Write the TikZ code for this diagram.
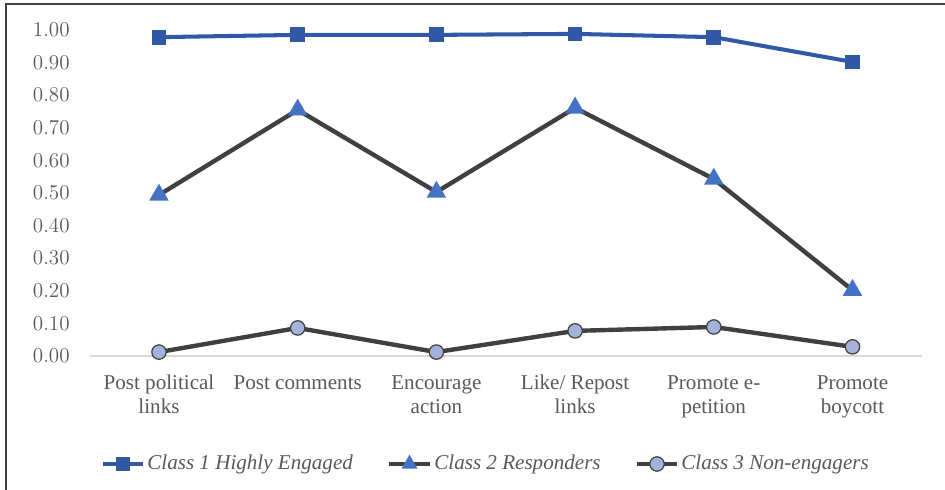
\documentclass[tikz,border=0pt]{standalone}
\usepackage{fontspec}
\setmainfont{Liberation Serif}
\usetikzlibrary{shapes.geometric}
\definecolor{lineblue}{HTML}{3058A6}
\definecolor{triblue}{HTML}{4472C4}
\definecolor{dotblue}{HTML}{A3B3DC}
\definecolor{darkline}{HTML}{404040}
\definecolor{ticktext}{HTML}{595959}
\tikzset{
	chartfont/.style={font=\fontsize{12}{13.6}\selectfont, text=ticktext},
	sqmark/.style={rectangle, fill=lineblue, minimum size=8.4pt, inner sep=0pt},
	trimark/.style={regular polygon, regular polygon sides=3, fill=triblue, minimum size=12.8pt, inner sep=0pt},
	dotmark/.style={circle, draw=darkline, line width=0.7pt, fill=dotblue, minimum size=8.2pt, inner sep=0pt},
	blueline/.style={draw=lineblue, line width=2.3pt, line join=round},
	darkseries/.style={draw=darkline, line width=2.5pt, line join=round}
}

\begin{document}
\begin{tikzpicture}[x=2.774cm, y=6.52cm]
		%%%%% FRAME %%%%%
		\useasboundingbox (-3.18cm,-2.68cm) rectangle (15.72cm,7.12cm);
		\draw[darkline, line width=1.2pt] (-3.06cm,-2.68cm) -- (-3.06cm,7.04cm) -- (15.72cm,7.04cm);
		
		%%%%% AXES %%%%%
		\draw[color=black!15, line width=0.8pt] (-0.5,0) -- (5.5,0);
		\foreach \i in {0,...,10}{
			\pgfmathsetmacro{\v}{\i/10}
			\node[chartfont, anchor=east, inner sep=0pt] (tick\i) at (-1.78cm,\v) {\pgfmathprintnumber[fixed,fixed zerofill,precision=2]{\v}};
		}
		
		\foreach \t [count=\i from 0] in {Post political\\links, Post comments, Encourage\\action, Like/ Repost\\links, Promote e-\\petition, Promote\\boycott}
			\node[chartfont, anchor=north, align=center, inner sep=0pt] (cat\i) at (\i,-0.38cm) {\t};
		
		%%%%% DATA %%%%%
		\foreach \v [count=\i from 0] in {0.978,0.985,0.985,0.988,0.978,0.902}
			\coordinate (a\i) at (\i,\v);
		\foreach \v [count=\i from 0] in {0.494,0.755,0.503,0.761,0.543,0.202}
			\coordinate (b\i) at (\i,\v);
		\foreach \v [count=\i from 0] in {0.012,0.086,0.012,0.077,0.089,0.028}
			\coordinate (c\i) at (\i,\v);
		
		\draw[darkseries] (c0) \foreach \i in {1,...,5}{ -- (c\i)};
		\draw[darkseries] (b0) \foreach \i in {1,...,5}{ -- (b\i)};
		\draw[blueline] (a0) \foreach \i in {1,...,5}{ -- (a\i)};
		
		\foreach \i in {0,...,5}{
			\node[dotmark] (cm\i) at (c\i) {};
			\node[trimark] (bm\i) at (b\i) {};
			\node[sqmark] (am\i) at (a\i) {};
		}
		
		%%%%% LEGEND %%%%%
		\coordinate (la1) at (-1.12cm,-2.16cm);
		\coordinate (lb1) at (-0.32cm,-2.16cm);
		\draw[blueline] (la1) -- (lb1);
		\node[sqmark] (lm1) at (-0.72cm,-2.16cm) {};
		\node[chartfont, anchor=west, inner sep=0pt] (lt1) at (-0.24cm,-2.16cm) {\itshape Class 1 Highly Engaged};
		
		\coordinate (la2) at (4.6cm,-2.16cm);
		\coordinate (lb2) at (5.42cm,-2.16cm);
		\draw[darkseries] (la2) -- (lb2);
		\node[trimark, minimum size=10.5pt] (lm2) at (5.01cm,-2.16cm) {};
		\node[chartfont, anchor=west, inner sep=0pt] (lt2) at (5.5cm,-2.16cm) {\itshape Class 2 Responders};
		
		\coordinate (la3) at (9.56cm,-2.16cm);
		\coordinate (lb3) at (10.36cm,-2.16cm);
		\draw[darkseries] (la3) -- (lb3);
		\node[dotmark] (lm3) at (9.96cm,-2.16cm) {};
		\node[chartfont, anchor=west, inner sep=0pt] (lt3) at (10.44cm,-2.16cm) {\itshape Class 3 Non-engagers};
		
		%%%%% END %%%%%
	\end{tikzpicture}
\end{document}
